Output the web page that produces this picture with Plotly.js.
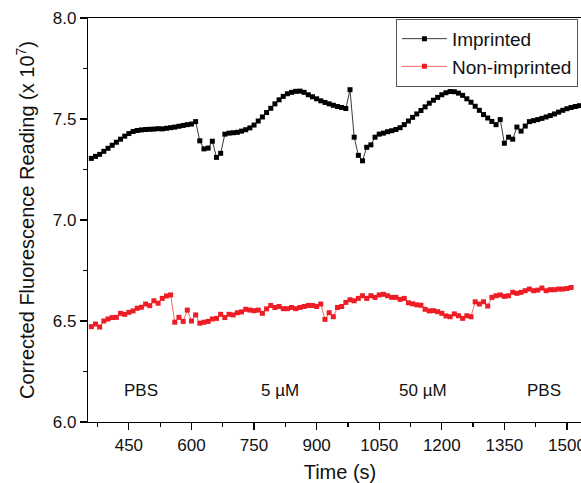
<!DOCTYPE html>
<html>
<head>
<meta charset="utf-8">
<script src="https://cdn.plot.ly/plotly-3.0.1.min.js"></script>
<style>
html,body{margin:0;padding:0;overflow:hidden;background:#fff;}
#chart{width:600px;height:483px;}
</style>
</head>
<body>
<div id="chart"></div>
<script>
// Imprinted (black) series
const imprintedTime = [360,370,380,390,400,410,420,430,440,450,460,470,480,490,500,510,520,530,540,550,560,570,580,590,600,
610,620,630,640,650,660,670,680,690,700,710,720,730,740,750,760,770,780,790,800,810,820,830,840,850,860,870,880,890,900,
910,920,930,940,950,960,970,980,990,1000,1010,1020,1030,1040,1050,1060,1070,1080,1090,1100,1110,1120,1130,1140,1150,1160,
1170,1180,1190,1200,1210,1220,1230,1240,1250,1260,1270,1280,1290,1300,1310,1320,1330,1340,1350,1360,1370,1380,1390,1400,
1410,1420,1430,1440,1450,1460,1470,1480,1490,1500,1510,1520,1530,1540];
const imprintedValue = [7.305,7.315,7.325,7.34,7.355,7.37,7.385,7.40,7.415,7.428,7.438,7.443,7.446,7.448,7.449,7.45,7.452,7.451,7.454,7.457,7.46,7.464,7.468,7.472,7.475,
7.487,7.392,7.352,7.356,7.39,7.31,7.33,7.425,7.43,7.432,7.434,7.44,7.447,7.456,7.47,7.49,7.51,7.532,7.553,7.575,7.595,7.612,7.625,7.632,7.637,7.638,7.632,7.62,7.61,7.60,
7.59,7.582,7.575,7.568,7.562,7.557,7.552,7.645,7.41,7.32,7.293,7.36,7.372,7.41,7.425,7.43,7.437,7.442,7.448,7.457,7.472,7.49,7.508,7.525,7.542,7.56,
7.578,7.593,7.607,7.62,7.63,7.636,7.635,7.628,7.617,7.60,7.583,7.563,7.543,7.522,7.505,7.488,7.472,7.497,7.38,7.41,7.40,7.46,7.44,7.465,
7.487,7.492,7.497,7.503,7.51,7.517,7.525,7.534,7.543,7.551,7.557,7.562,7.566,7.569];

// Non-imprinted (red) series
const nonImprintedTime = [360,370,380,390,400,410,420,430,440,450,460,470,480,490,500,510,520,530,540,550,560,570,580,590,600,
610,620,630,640,650,660,670,680,690,700,710,720,730,740,750,760,770,780,790,800,810,820,830,840,850,860,870,880,890,900,
910,920,930,940,950,960,970,980,990,1000,1010,1020,1030,1040,1050,1060,1070,1080,1090,1100,1110,1120,1130,1140,1150,1160,
1170,1180,1190,1200,1210,1220,1230,1240,1250,1260,1270,1280,1290,1300,1310,1320,1330,1340,1350,1360,1370,1380,1390,1400,
1410,1420,1430,1440,1450,1460,1470,1480,1490,1500,1510];
const nonImprintedValue = [6.472,6.485,6.47,6.50,6.51,6.517,6.518,6.538,6.533,6.543,6.55,6.563,6.568,6.584,6.576,6.60,6.588,6.612,6.624,6.629,6.494,6.518,6.498,6.554,6.50,
6.53,6.489,6.494,6.498,6.51,6.513,6.533,6.517,6.533,6.53,6.541,6.545,6.558,6.554,6.551,6.554,6.538,6.56,6.577,6.567,6.572,6.561,6.561,6.567,6.561,6.567,6.572,6.577,6.577,6.572,
6.584,6.508,6.541,6.521,6.567,6.572,6.592,6.605,6.60,6.612,6.625,6.612,6.625,6.617,6.629,6.632,6.625,6.617,6.617,6.607,6.612,6.59,6.585,6.58,6.578,6.558,
6.55,6.551,6.546,6.538,6.525,6.521,6.535,6.526,6.513,6.526,6.521,6.595,6.584,6.595,6.574,6.617,6.625,6.629,6.622,6.625,6.642,6.637,6.642,6.65,
6.658,6.65,6.653,6.663,6.65,6.655,6.655,6.658,6.658,6.661,6.666];

// Phase labels
const phaseLabels = ["PBS", "5 µM", "50 µM", "PBS"];
const phaseX = [480, 812, 1155, 1444];
const phaseY = [6.155, 6.155, 6.155, 6.155];

const FONT = "Liberation Sans, Arial, Helvetica, sans-serif";

const traces = [
  {
    x: imprintedTime, y: imprintedValue, name: "Imprinted",
    type: "scatter", mode: "lines+markers",
    line: {color: "#3a3a3a", width: 1},
    marker: {symbol: "square", size: 5, color: "#000000"}
  },
  {
    x: nonImprintedTime, y: nonImprintedValue, name: "Non-imprinted",
    type: "scatter", mode: "lines+markers",
    line: {color: "#f26a6a", width: 1},
    marker: {symbol: "square", size: 5, color: "#ee1c24"}
  }
];

const annotations = phaseLabels.map((t, i) => ({
  x: phaseX[i], y: phaseY[i], xref: "x", yref: "y", text: t,
  showarrow: false, font: {family: FONT, size: 17, color: "#111"}
}));

const layout = {
  width: 600, height: 483,
  margin: {l: 88, r: 8, t: 18, b: 61},
  paper_bgcolor: "#ffffff", plot_bgcolor: "#ffffff",
  font: {family: FONT, color: "#111"},
  showlegend: true,
  legend: {
    x: 0.611, y: 0.998, xanchor: "left", yanchor: "top",
    bgcolor: "#ffffff", bordercolor: "#555555", borderwidth: 1,
    itemwidth: 45,
    font: {family: FONT, size: 19, color: "#111"}
  },
  xaxis: {
    range: [352, 1560], tick0: 0, dtick: 150,
    ticks: "outside", ticklen: 7, tickwidth: 1.2, tickcolor: "#000",
    showline: true, linecolor: "#000", linewidth: 1.2, mirror: true,
    showgrid: false, zeroline: false,
    tickfont: {family: FONT, size: 17, color: "#111"},
    minor: {ticks: "outside", ticklen: 4, tickwidth: 1.2, tickcolor: "#000", tick0: 0, dtick: 75, showgrid: false},
    title: {text: "Time (s)", font: {family: FONT, size: 20, color: "#111"}, standoff: 14}
  },
  yaxis: {
    range: [6, 8], tick0: 0, dtick: 0.5, tickformat: ".1f",
    ticks: "outside", ticklen: 7, tickwidth: 1.2, tickcolor: "#000",
    showline: true, linecolor: "#000", linewidth: 1.2, mirror: true,
    showgrid: false, zeroline: false,
    tickfont: {family: FONT, size: 17, color: "#111"},
    minor: {ticks: "outside", ticklen: 4, tickwidth: 1.2, tickcolor: "#000", tick0: 0, dtick: 0.25, showgrid: false},
    title: {text: "Corrected Fluorescence Reading (x 10<sup>7</sup>)", font: {family: FONT, size: 20, color: "#111"}, standoff: 12}
  },
  annotations: annotations
};

Plotly.newPlot("chart", traces, layout, {displayModeBar: false, staticPlot: true});
</script>
</body>
</html>
